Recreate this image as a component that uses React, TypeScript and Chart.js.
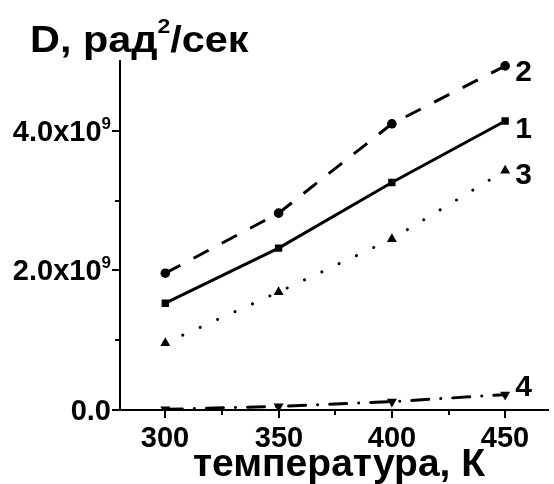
import React, { useEffect, useRef } from "react";
import { Chart, registerables } from "chart.js";

Chart.register(...registerables);

const temperatures = [300, 350, 400, 450];
const series1 = [1.53e9, 2.32e9, 3.26e9, 4.14e9];
const series2 = [1.96e9, 2.82e9, 4.1e9, 4.93e9];
const series3 = [0.96e9, 1.69e9, 2.45e9, 3.43e9];
const series4 = [0.01e9, 0.05e9, 0.12e9, 0.22e9];
const seriesNames = ["1", "2", "3", "4"];
const xTickValues = [300, 325, 350, 375, 400, 425, 450];
const xTickLabels = ["300", "", "350", "", "400", "", "450"];
const yTickValues = [0, 1e9, 2e9, 3e9, 4e9];
const yTickMain = ["0.0", "", "2.0x10", "", "4.0x10"];
const yTickSup = ["", "", "9", "", "9"];
const yTitleMain = "D, рад";
const yTitleSup = "2";
const yTitleRest = "/сек";
const xTitle = "температура, К";

const FONT = "'Liberation Sans', Arial, sans-serif";

export default function App() {
  const ref = useRef<HTMLCanvasElement | null>(null);
  useEffect(() => {
    document.body.style.margin = "0";
    const canvas = ref.current!;
    const labelDy = [17, 15, 13, 1];
    const overlay = {
      id: "overlay",
      afterDraw(chart: any) {
        const ctx = chart.ctx as CanvasRenderingContext2D;
        const xs = chart.scales.x;
        const ys = chart.scales.y;
        const area = chart.chartArea;
        ctx.save();
        ctx.fillStyle = "#000";
        ctx.strokeStyle = "#000";
        ctx.lineWidth = 2;
        // x ticks
        xTickValues.forEach((v, i) => {
          const px = Math.round(xs.getPixelForValue(v));
          const major = xTickLabels[i] !== "";
          ctx.beginPath();
          ctx.moveTo(px, area.bottom);
          ctx.lineTo(px, area.bottom + (major ? 8 : 5));
          ctx.stroke();
          if (major) {
            ctx.font = `bold 29px ${FONT}`;
            ctx.textAlign = "center";
            ctx.textBaseline = "alphabetic";
            ctx.fillText(xTickLabels[i], px, 447);
          }
        });
        // y ticks
        yTickValues.forEach((v, i) => {
          const py = Math.round(ys.getPixelForValue(v));
          const major = yTickMain[i] !== "";
          ctx.beginPath();
          ctx.moveTo(area.left, py);
          ctx.lineTo(area.left - (major ? 8 : 5), py);
          ctx.stroke();
          if (major) {
            let right = 111;
            ctx.textAlign = "right";
            ctx.textBaseline = "alphabetic";
            if (yTickSup[i]) {
              ctx.font = `bold 17px ${FONT}`;
              ctx.fillText(yTickSup[i], right, py - 2.5);
              right -= ctx.measureText(yTickSup[i]).width;
            }
            ctx.font = `bold 29px ${FONT}`;
            ctx.fillText(yTickMain[i], right, py + 10);
          }
        });
        // y title (slightly stretched horizontally like the original)
        ctx.save();
        ctx.translate(30, 0);
        ctx.scale(1.15, 1);
        ctx.textAlign = "left";
        ctx.textBaseline = "alphabetic";
        let tx = 0;
        ctx.font = `bold 36px ${FONT}`;
        ctx.fillText(yTitleMain, tx, 52);
        tx += ctx.measureText(yTitleMain).width;
        ctx.font = `bold 20px ${FONT}`;
        ctx.fillText(yTitleSup, tx, 33);
        tx += ctx.measureText(yTitleSup).width;
        ctx.font = `bold 36px ${FONT}`;
        ctx.fillText(yTitleRest, tx, 52);
        ctx.restore();
        // x title
        ctx.font = `bold 39px ${FONT}`;
        ctx.textAlign = "center";
        ctx.textBaseline = "alphabetic";
        ctx.fillText(xTitle, 339, 476);
        // series labels
        ctx.font = `bold 30px ${FONT}`;
        ctx.textAlign = "left";
        chart.data.datasets.forEach((ds: any, i: number) => {
          const meta = chart.getDatasetMeta(i);
          const last = meta.data[meta.data.length - 1];
          ctx.fillText(seriesNames[i], last.x + 10, last.y + labelDy[i]);
        });
        ctx.restore();
      },
    };
    const mk = (data: number[], style: string, radius: number, dash: number[], cap: string, rotation = 0) => ({
      data: temperatures.map((t, i) => ({ x: t, y: data[i] })),
      borderColor: "#000",
      backgroundColor: "#000",
      borderWidth: 3,
      borderDash: dash,
      borderCapStyle: cap,
      pointStyle: style,
      pointRadius: radius,
      pointRotation: rotation,
      pointBorderWidth: 0,
      pointBackgroundColor: "#000",
      tension: 0,
    });
    const chart = new Chart(canvas, {
      type: "line",
      data: {
        datasets: [
          mk(series1, "rect", 5.2, [], "butt"),
          mk(series2, "circle", 4.8, [17, 15], "butt"),
          mk(series3, "triangle", 5.8, [0.1, 19], "round"),
          mk(series4, "triangle", 5.8, [17, 12, 0.1, 12], "round", 180),
        ] as any,
      },
      options: {
        responsive: false,
        animation: false,
        layout: { padding: { top: 61, right: 1, left: 0, bottom: 0 } },
        plugins: { legend: { display: false }, tooltip: { enabled: false } },
        scales: {
          x: {
            type: "linear",
            min: 280,
            max: 469,
            grid: { display: false },
            border: { display: true, color: "#000", width: 2 },
            ticks: { display: false },
            afterFit: (s: any) => { s.height = 74; },
          },
          y: {
            type: "linear",
            min: 0,
            max: 5e9,
            grid: { display: false },
            border: { display: true, color: "#000", width: 2 },
            ticks: { display: false },
            afterFit: (s: any) => { s.width = 120; },
          },
        },
      },
      plugins: [overlay],
    });
    return () => chart.destroy();
  }, []);
  return (
    <div style={{ position: "fixed", left: 0, top: 0, width: 554, height: 484, background: "#fff" }}>
      <canvas ref={ref} width={554} height={484} />
    </div>
  );
}
